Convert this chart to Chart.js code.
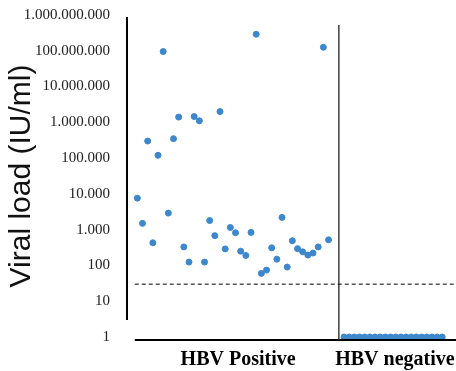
<!DOCTYPE html>
<html>
<head>
<meta charset="utf-8">
<script src="https://cdn.jsdelivr.net/npm/chart.js@4.4.1/dist/chart.umd.min.js"></script>
<style>
  html, body { margin: 0; padding: 0; background: #fff; }
  #wrap { width: 456px; height: 371px; }
</style>
</head>
<body>
<div id="wrap"><canvas id="chart"></canvas></div>
<script>
// Viral load per patient (IU/ml)
const groupNames = ['HBV Positive', 'HBV negative'];
const positiveLoads = [
  7600, 1500, 300000, 430, 120000, 95000000, 2900, 350000, 1400000, 330,
  124, 1450000, 1100000, 124, 1800, 680, 2000000, 290, 1150, 820,
  250, 190, 840, 290000000, 60, 74, 310, 150, 2200, 90,
  490, 295, 240, 195, 222, 330, 125000000, 520
];
const negativeLoads = [1, 1, 1, 1, 1, 1, 1, 1, 1, 1, 1, 1, 1, 1, 1, 1, 1, 1, 1, 1];
const yTicks = [1, 10, 100, 1000, 10000, 100000, 1000000, 10000000, 100000000, 1000000000];
const cutoff = 30; // detection limit, dashed line

const dotColor = '#3d87cc';
const xMax = 61.7;

// x positions: patients laid side by side, a gap between the groups
const positivePoints = positiveLoads.map((v, i) => ({ x: i + 1, y: v }));
const negStart = positiveLoads.length + 3;
const negativePoints = negativeLoads.map((v, i) => ({ x: negStart + i, y: v }));
const dividerX = positiveLoads.length + 2;
// group labels centred in each panel
const groupCenters = [(1 + dividerX) / 2, (dividerX + xMax) / 2];

// Axis lines, divider and cutoff line
const decorPlugin = {
  id: 'decor',
  afterDatasetsDraw(chart) {
    const { ctx, chartArea, scales: { x, y } } = chart;
    ctx.save();
    ctx.strokeStyle = '#000';

    // left axis line
    ctx.lineWidth = 2;
    ctx.beginPath();
    ctx.moveTo(chartArea.left, chartArea.top + 2);
    ctx.lineTo(chartArea.left, y.getPixelForValue(3));
    ctx.stroke();

    // bottom axis line
    ctx.beginPath();
    ctx.moveTo(x.getPixelForValue(0.5), chartArea.bottom + 3);
    ctx.lineTo(chartArea.right + 5, chartArea.bottom + 3);
    ctx.stroke();

    // divider between groups
    ctx.lineWidth = 1.3;
    ctx.strokeStyle = '#222';
    ctx.beginPath();
    ctx.moveTo(x.getPixelForValue(dividerX), chartArea.top + 10);
    ctx.lineTo(x.getPixelForValue(dividerX), chartArea.bottom + 3);
    ctx.stroke();

    // cutoff
    ctx.lineWidth = 1;
    ctx.strokeStyle = '#000';
    ctx.setLineDash([4, 3]);
    ctx.beginPath();
    ctx.moveTo(x.getPixelForValue(0.5), y.getPixelForValue(cutoff));
    ctx.lineTo(chartArea.right + 5, y.getPixelForValue(cutoff));
    ctx.stroke();
    ctx.restore();
  }
};

new Chart(document.getElementById('chart'), {
  type: 'scatter',
  data: {
    datasets: [
      {
        label: groupNames[0],
        data: positivePoints,
        backgroundColor: dotColor,
        borderColor: dotColor,
        pointRadius: 3,
        clip: false
      },
      {
        label: groupNames[1],
        data: negativePoints,
        backgroundColor: dotColor,
        borderColor: dotColor,
        pointRadius: 3,
        clip: false
      }
    ]
  },
  options: {
    responsive: true,
    maintainAspectRatio: false,
    animation: false,
    layout: { padding: { top: 15, right: 0, left: 0, bottom: 0 } },
    plugins: {
      legend: { display: false },
      tooltip: { enabled: false }
    },
    scales: {
      x: {
        type: 'linear',
        min: -1,
        max: xMax,
        grid: { display: false, drawTicks: false },
        border: { display: false },
        afterBuildTicks: scale => {
          scale.ticks = groupCenters.map(v => ({ value: v }));
        },
        afterFit: scale => {
          scale.height = 34;
          scale.paddingLeft = 0;
          scale.paddingRight = 0;
        },
        ticks: {
          padding: 11,
          color: '#000',
          maxRotation: 0,
          font: { family: '"Liberation Serif", serif', size: 20, weight: 'bold' },
          callback: (value, index) => groupNames[index]
        }
      },
      y: {
        type: 'logarithmic',
        min: 1,
        max: 1000000000,
        grid: { display: false, drawTicks: false },
        border: { display: false },
        afterBuildTicks: scale => {
          scale.ticks = yTicks.map(v => ({ value: v }));
        },
        afterFit: scale => {
          scale.width = 127;
          scale.paddingTop = 0;
          scale.paddingBottom = 0;
        },
        ticks: {
          padding: 17,
          color: '#222',
          autoSkip: false,
          font: { family: '"Liberation Serif", serif', size: 15 },
          callback: value => Number(value).toLocaleString('de-DE')
        },
        title: {
          display: true,
          text: 'Viral load (IU/ml)',
          color: '#111',
          padding: { top: 4, bottom: 0 },
          font: { family: '"Liberation Sans", Arial, sans-serif', size: 30 }
        }
      }
    }
  },
  plugins: [decorPlugin]
});
</script>
</body>
</html>
